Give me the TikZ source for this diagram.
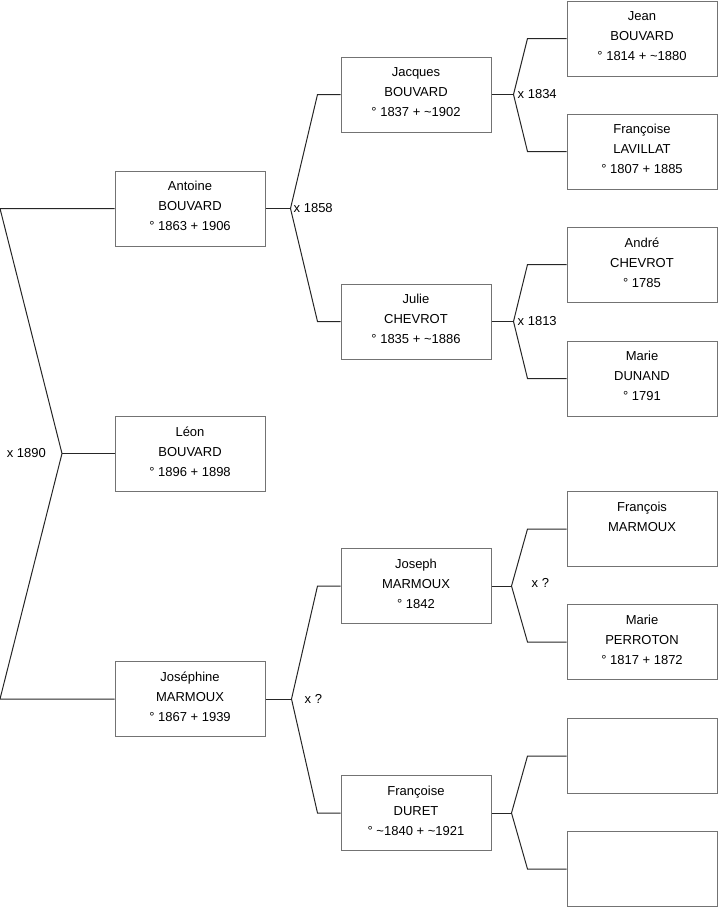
\documentclass[tikz,border=0pt]{standalone}
\usepackage{fontspec}
\setmainfont{Liberation Sans}
\usetikzlibrary{positioning}

\begin{document}
\begin{tikzpicture}[
    x=1pt, y=-1pt,
    person/.style={draw=black!55, line width=1pt, fill=white, minimum width=150pt,
      minimum height=75pt, align=center, text depth=4.5pt,
      font=\fontsize{13}{20}\selectfont},
    link/.style={draw=black!85, line width=1pt},
    wed/.style={font=\fontsize{13}{16}\selectfont, inner sep=0pt}]
  \useasboundingbox (0,0) rectangle (719,908);
  \coordinate (edge) at (0,0);
  % child and parents
  \node[person] (antoine) at (190,208.5) {Antoine\\BOUVARD\\° 1863 + 1906};
  \node[person] (leon) at (190,453.5) {Léon\\BOUVARD\\° 1896 + 1898};
  \node[person] (josephine) at (190,699) {Joséphine\\MARMOUX\\° 1867 + 1939};
  % grandparents
  \node[person] (jacques) at (416,94.5) {Jacques\\BOUVARD\\° 1837 + \textasciitilde1902};
  \node[person] (julie) at (416,321.5) {Julie\\CHEVROT\\° 1835 + \textasciitilde1886};
  \node[person] (joseph) at (416,586) {Joseph\\MARMOUX\\° 1842};
  \node[person] (francoiseD) at (416,813) {Françoise\\DURET\\° \textasciitilde1840 + \textasciitilde1921};
  % great-grandparents
  \node[person] (jean) at (642,38.5) {Jean\\BOUVARD\\° 1814 + \textasciitilde1880};
  \node[person] (francoiseL) at (642,151.5) {Françoise\\LAVILLAT\\° 1807 + 1885};
  \node[person] (andre) at (642,264.5) {André\\CHEVROT\\° 1785};
  \node[person] (marieD) at (642,378.5) {Marie\\DUNAND\\° 1791};
  \node[person] (francois) at (642,529) {François\\MARMOUX\\\mbox{}};
  \node[person] (marieP) at (642,642) {Marie\\PERROTON\\° 1817 + 1872};
  \node[person] (empty1) at (642,756) {};
  \node[person] (empty2) at (642,869) {};

  % marriage 1890
  \coordinate (x1890) at (62,453.5);
  \draw[link] (antoine.west) -- (antoine.west -| edge) -- (x1890)
    -- (josephine.west -| edge) -- (josephine.west);
  \draw[link] (x1890) -- (leon.west);
  \node[wed, left=16pt of x1890] (l1890) {x 1890};

  % marriage 1858
  \coordinate[right=25pt of antoine.east] (x1858);
  \draw[link] (antoine.east) -- (x1858);
  \draw[link] (jacques.west) -- ([xshift=-23pt]jacques.west) -- (x1858)
    -- ([xshift=-23pt]julie.west) -- (julie.west);
  \node[wed, right=3pt of x1858] (l1858) {x 1858};

  % marriage Joseph / Francoise
  \coordinate[right=26pt of josephine.east] (xjm);
  \draw[link] (josephine.east) -- (xjm);
  \draw[link] (joseph.west) -- ([xshift=-23pt]joseph.west) -- (xjm)
    -- ([xshift=-23pt]francoiseD.west) -- (francoiseD.west);
  \node[wed, right=13pt of xjm] (ljm) {x ?};

  % marriage 1834
  \coordinate[right=22pt of jacques.east] (x1834);
  \draw[link] (jacques.east) -- (x1834);
  \draw[link] (jean.west) -- ([xshift=-39pt]jean.west) -- (x1834)
    -- ([xshift=-39pt]francoiseL.west) -- (francoiseL.west);
  \node[wed, right=4pt of x1834] (l1834) {x 1834};

  % marriage 1813
  \coordinate[right=22pt of julie.east] (x1813);
  \draw[link] (julie.east) -- (x1813);
  \draw[link] (andre.west) -- ([xshift=-39pt]andre.west) -- (x1813)
    -- ([xshift=-39pt]marieD.west) -- (marieD.west);
  \node[wed, right=4pt of x1813] (l1813) {x 1813};

  % marriage Francois / Marie
  \coordinate[right=20pt of joseph.east] (xfm);
  \draw[link] (joseph.east) -- (xfm);
  \draw[link] (francois.west) -- ([xshift=-39pt]francois.west) -- (xfm)
    -- ([xshift=-39pt]marieP.west) -- (marieP.west);
  \node[wed, right=20pt of xfm, yshift=3pt] (lfm) {x ?};

  % unknown parents
  \coordinate[right=20pt of francoiseD.east] (xdu);
  \draw[link] (francoiseD.east) -- (xdu);
  \draw[link] (empty1.west) -- ([xshift=-39pt]empty1.west) -- (xdu)
    -- ([xshift=-39pt]empty2.west) -- (empty2.west);
\end{tikzpicture}
\end{document}
